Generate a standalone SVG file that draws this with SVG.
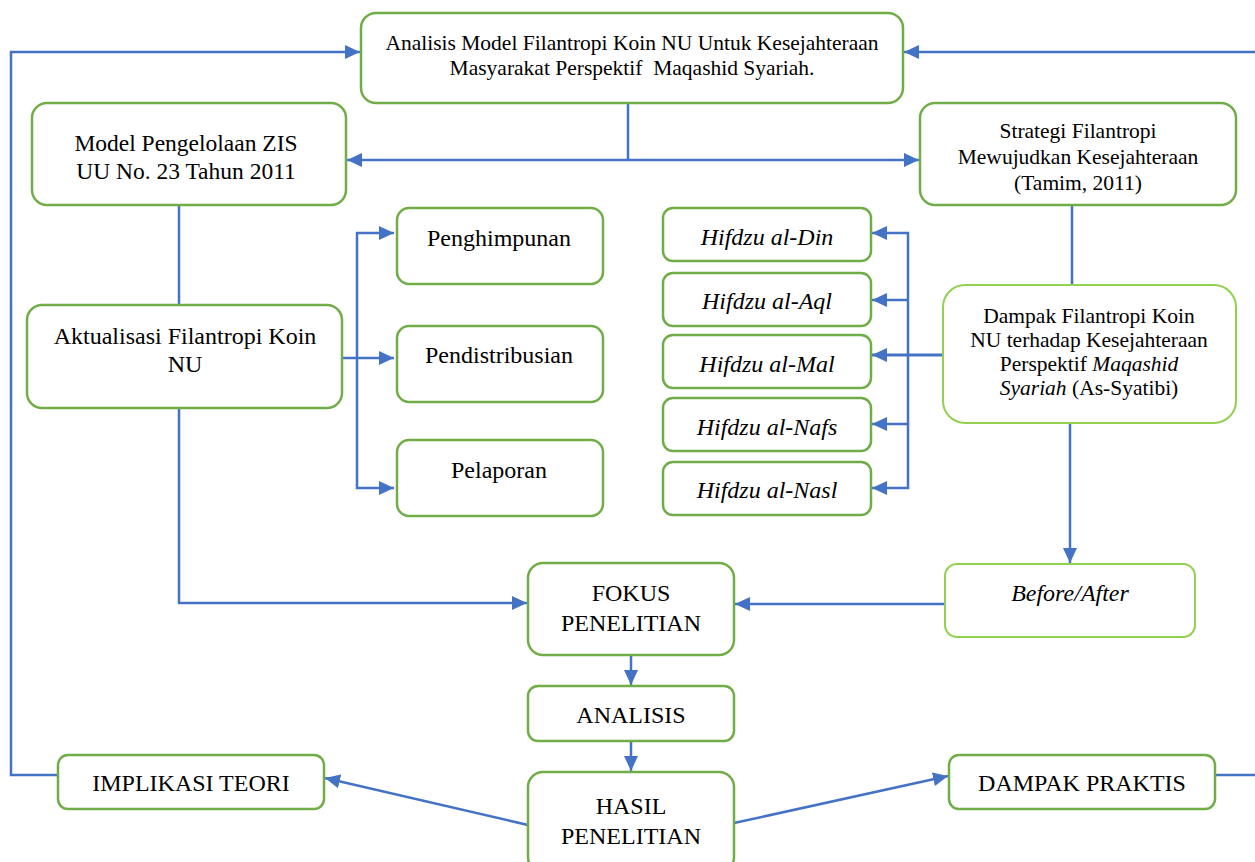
<svg xmlns="http://www.w3.org/2000/svg" width="1255" height="862" viewBox="0 0 1255 862">
<style>
.box{fill:#fff;stroke:#70AD47;stroke-width:2.5}
.lbox{fill:#fff;stroke:#92D050;stroke-width:2}
.t{font-family:"Liberation Serif","Times New Roman",serif;fill:#000;text-anchor:middle}
.s{font-size:21.5px}
.m{font-size:24px}
.i{font-style:italic}
.c{fill:none;stroke:#4472C4;stroke-width:2.5}
</style>
<defs>
<marker id="ah" markerUnits="userSpaceOnUse" markerWidth="16" markerHeight="14" refX="15" refY="7" orient="auto">
<path d="M0,0 L15,7 L0,14 Z" fill="#4472C4"/>
</marker>
</defs>
<rect width="1255" height="862" fill="#fff"/>
<g id="connectors">
<path class="c" d="M628,103 V160"/>
<path class="c" d="M628,160 H347" marker-end="url(#ah)"/>
<path class="c" d="M628,160 H919" marker-end="url(#ah)"/>
<path class="c" d="M58,775 H11 V52 H360" marker-end="url(#ah)"/>
<path class="c" d="M1215,775 H1255"/>
<path class="c" d="M1255,52 H904" marker-end="url(#ah)"/>
<path class="c" d="M179,205 V305"/>
<path class="c" d="M179,408 V603 H527" marker-end="url(#ah)"/>
<path class="c" d="M342,358 H394" marker-end="url(#ah)"/>
<path class="c" d="M357,358 V233 H394" marker-end="url(#ah)"/>
<path class="c" d="M357,358 V488 H394" marker-end="url(#ah)"/>
<path class="c" d="M1072,205 V285"/>
<path class="c" d="M943,355 H872" marker-end="url(#ah)" style="stroke-width:3"/>
<path class="c" d="M908,355 V233 H872" marker-end="url(#ah)"/>
<path class="c" d="M908,300 H872" marker-end="url(#ah)"/>
<path class="c" d="M908,355 V488 H872" marker-end="url(#ah)"/>
<path class="c" d="M908,424 H872" marker-end="url(#ah)"/>
<path class="c" d="M1070,423 V563" marker-end="url(#ah)"/>
<path class="c" d="M945,604 H735" marker-end="url(#ah)"/>
<path class="c" d="M631,655 V685" marker-end="url(#ah)"/>
<path class="c" d="M631,741 V771" marker-end="url(#ah)"/>
<path class="c" d="M528,825 L325,778" marker-end="url(#ah)"/>
<path class="c" d="M734,823 L948,776" marker-end="url(#ah)"/>
</g>
<g id="n-top">
<rect class="box" x="361" y="13" width="542" height="90" rx="15"/>
<text class="t s" x="632" y="50">Analisis Model Filantropi Koin NU Untuk Kesejahteraan</text>
<text class="t s" x="632" y="75" xml:space="preserve">Masyarakat Perspektif  Maqashid Syariah.</text>
</g>
<g id="n-zis">
<rect class="box" x="32" y="103" width="314" height="102" rx="15"/>
<text class="t" x="186" y="151" font-size="23.5">Model Pengelolaan ZIS</text>
<text class="t" x="186" y="179" font-size="23.5">UU No. 23 Tahun 2011</text>
</g>
<g id="n-strategi">
<rect class="box" x="920" y="103" width="316" height="102" rx="15"/>
<text class="t s" x="1078" y="138">Strategi Filantropi</text>
<text class="t s" x="1078" y="164">Mewujudkan Kesejahteraan</text>
<text class="t s" x="1078" y="190">(Tamim, 2011)</text>
</g>
<g id="n-aktualisasi">
<rect class="box" x="27" y="305" width="315" height="103" rx="15"/>
<text class="t m" x="185" y="344">Aktualisasi Filantropi Koin</text>
<text class="t m" x="185" y="372">NU</text>
</g>
<g id="n-penghimpunan">
<rect class="box" x="397" y="208" width="206" height="76" rx="12"/>
<text class="t m" x="499" y="246">Penghimpunan</text>
</g>
<g id="n-pendistribusian">
<rect class="box" x="397" y="326" width="206" height="76" rx="12"/>
<text class="t m" x="499" y="363">Pendistribusian</text>
</g>
<g id="n-pelaporan">
<rect class="box" x="397" y="440" width="206" height="76" rx="12"/>
<text class="t m" x="499" y="478">Pelaporan</text>
</g>
<g id="n-din">
<rect class="box" x="663" y="208" width="208" height="53" rx="10"/>
<text class="t m i" x="767" y="245">Hifdzu al-Din</text>
</g>
<g id="n-aql">
<rect class="box" x="663" y="273" width="208" height="53" rx="10"/>
<text class="t m i" x="767" y="309">Hifdzu al-Aql</text>
</g>
<g id="n-mal">
<rect class="box" x="663" y="335" width="208" height="53" rx="10"/>
<text class="t m i" x="767" y="372">Hifdzu al-Mal</text>
</g>
<g id="n-nafs">
<rect class="box" x="663" y="398" width="208" height="53" rx="10"/>
<text class="t m i" x="767" y="435">Hifdzu al-Nafs</text>
</g>
<g id="n-nasl">
<rect class="box" x="663" y="462" width="208" height="53" rx="10"/>
<text class="t m i" x="767" y="498">Hifdzu al-Nasl</text>
</g>
<g id="n-dampak">
<rect class="lbox" x="943" y="285" width="293" height="138" rx="22"/>
<text class="t s" x="1089" y="323">Dampak Filantropi Koin</text>
<text class="t s" x="1089" y="347">NU terhadap Kesejahteraan</text>
<text class="t s" x="1089" y="371">Perspektif <tspan class="i">Maqashid</tspan></text>
<text class="t s" x="1089" y="395"><tspan class="i">Syariah</tspan> (As-Syatibi)</text>
</g>
<g id="n-beforeafter">
<rect class="lbox" x="945" y="564" width="250" height="73" rx="12"/>
<text class="t m i" x="1070" y="601">Before/After</text>
</g>
<g id="n-fokus">
<rect class="box" x="528" y="563" width="206" height="92" rx="15"/>
<text class="t m" x="631" y="601">FOKUS</text>
<text class="t m" x="631" y="631">PENELITIAN</text>
</g>
<g id="n-analisis">
<rect class="box" x="528" y="686" width="206" height="55" rx="10"/>
<text class="t m" x="631" y="723">ANALISIS</text>
</g>
<g id="n-hasil">
<rect class="box" x="528" y="772" width="206" height="100" rx="15"/>
<text class="t m" x="631" y="814">HASIL</text>
<text class="t m" x="631" y="844">PENELITIAN</text>
</g>
<g id="n-implikasi">
<rect class="box" x="58" y="755" width="266" height="54" rx="10"/>
<text class="t m" x="191" y="791">IMPLIKASI TEORI</text>
</g>
<g id="n-praktis">
<rect class="box" x="949" y="755" width="266" height="54" rx="10"/>
<text class="t m" x="1082" y="791">DAMPAK PRAKTIS</text>
</g>
</svg>
